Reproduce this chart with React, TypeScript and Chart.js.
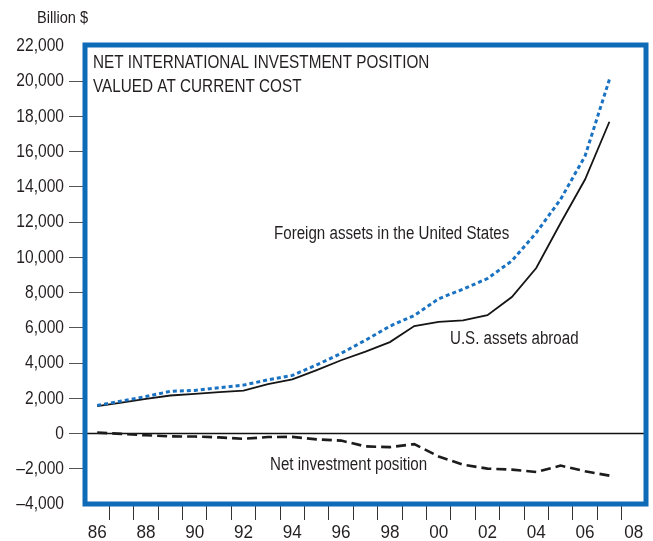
import React, { useEffect, useRef } from "react";
import { Chart, registerables } from "chart.js";

Chart.register(...registerables);

const yearLabels = ["86","87","88","89","90","91","92","93","94","95","96","97","98","99","00","01","02","03","04","05","06","07","08"];

const foreignAssetsInUS = [1600,1850,2100,2400,2450,2600,2750,3050,3300,3900,4550,5300,6100,6700,7650,8200,8800,9800,11400,13300,15750,20100,null];
const usAssetsAbroad = [1550,1760,1970,2160,2250,2350,2440,2800,3070,3600,4160,4650,5190,6100,6340,6420,6720,7750,9400,11950,14420,17700,null];
const netInvestmentPosition = [50,-20,-100,-160,-170,-220,-300,-200,-190,-330,-400,-730,-770,-600,-1300,-1770,-1990,-2050,-2180,-1820,-2140,-2390,null];

const yMin = -4000;
const yMax = 22000;
const yStep = 2000;

const FONT = '"Liberation Sans", Arial, sans-serif';
const BLUE = "#0e6bb8";
const INK = "#231f20";

const fmt = (v: number) => {
  const s = Math.abs(v).toLocaleString("en-US");
  return v < 0 ? "\u2013" + s : s;
};

// draw condensed text (Helvetica Condensed look) by squeezing Liberation Sans horizontally
function narrowText(ctx: CanvasRenderingContext2D, text: string, x: number, y: number, size: number, sx: number, align: CanvasTextAlign, baseline: CanvasTextBaseline) {
  ctx.save();
  ctx.translate(x, y);
  ctx.scale(sx, 1);
  ctx.font = `${size}px ${FONT}`;
  ctx.textAlign = align;
  ctx.textBaseline = baseline;
  ctx.fillStyle = INK;
  ctx.fillText(text, 0, 0);
  ctx.restore();
}

const overlayPlugin = {
  id: "overlay",
  beforeDatasetsDraw(chart: any) {
    const { ctx, chartArea, scales } = chart;
    const y0 = scales.y.getPixelForValue(0);
    ctx.save();
    ctx.strokeStyle = "#111";
    ctx.lineWidth = 1.5;
    ctx.beginPath();
    ctx.moveTo(chartArea.left, y0);
    ctx.lineTo(chartArea.right, y0);
    ctx.stroke();
    ctx.restore();
  },
  afterDraw(chart: any) {
    const { ctx, chartArea, scales } = chart;
    ctx.save();
    ctx.strokeStyle = BLUE;
    ctx.lineWidth = 5;
    ctx.strokeRect(chartArea.left, chartArea.top - 1, chartArea.right - chartArea.left, chartArea.bottom - chartArea.top + 1);
    ctx.restore();

    // y tick labels
    scales.y.ticks.forEach((t: any) => {
      narrowText(ctx, fmt(t.value), 64, scales.y.getPixelForValue(t.value), 19, 0.82, "right", "middle");
    });
    // x tick labels
    scales.x.ticks.forEach((t: any, i: number) => {
      if (i % 2 !== 0) return;
      narrowText(ctx, yearLabels[i], scales.x.getPixelForValue(i), 538, 19, 0.9, "center", "alphabetic");
    });

    narrowText(ctx, "NET INTERNATIONAL INVESTMENT POSITION", 93, 68, 18, 0.85, "left", "alphabetic");
    narrowText(ctx, "VALUED AT CURRENT COST", 93, 92, 18, 0.85, "left", "alphabetic");
    narrowText(ctx, "Foreign assets in the United States", 274, 239, 18, 0.84, "left", "alphabetic");
    narrowText(ctx, "U.S. assets abroad", 450, 344, 18, 0.84, "left", "alphabetic");
    narrowText(ctx, "Net investment position", 270, 470, 18, 0.84, "left", "alphabetic");
    narrowText(ctx, "Billion $", 37, 23, 17, 0.86, "left", "alphabetic");
  },
};

export default function App() {
  const ref = useRef<HTMLCanvasElement>(null);
  useEffect(() => {
    if (!ref.current) return;
    const chart = new Chart(ref.current, {
      type: "line",
      data: {
        labels: yearLabels,
        datasets: [
          {
            label: "Foreign assets in the United States",
            data: foreignAssetsInUS,
            borderColor: "#1a72c2",
            borderWidth: 3,
            borderDash: [4, 3],
            pointRadius: 0,
            tension: 0,
          },
          {
            label: "U.S. assets abroad",
            data: usAssetsAbroad,
            borderColor: "#151515",
            borderWidth: 1.8,
            pointRadius: 0,
            tension: 0,
          },
          {
            label: "Net investment position",
            data: netInvestmentPosition,
            borderColor: "#1c1c1c",
            borderWidth: 2.6,
            borderDash: [10, 5],
            pointRadius: 0,
            tension: 0,
          },
        ],
      },
      options: {
        animation: false,
        responsive: false,
        layout: { padding: { left: 0, top: 46, right: 7, bottom: 0 } },
        plugins: { legend: { display: false }, tooltip: { enabled: false } },
        scales: {
          x: {
            type: "category",
            offset: true,
            afterFit: (s: any) => { s.height = 37; },
            grid: {
              offset: true,
              drawOnChartArea: false,
              drawTicks: true,
              tickLength: 16,
              color: (c: any) => (c.type !== "tick" || c.index === 0 ? "rgba(0,0,0,0)" : "#333"),
              lineWidth: 1,
            },
            border: { display: false },
            ticks: { display: false, autoSkip: false, maxRotation: 0 },
          },
          y: {
            min: yMin,
            max: yMax,
            afterFit: (s: any) => { s.width = 85; },
            grid: {
              drawOnChartArea: false,
              drawTicks: true,
              tickLength: 16,
              color: (c: any) => (c.tick && (c.tick.value === yMin || c.tick.value === yMax) ? "rgba(0,0,0,0)" : "#555"),
            },
            border: { display: false },
            ticks: { display: false, stepSize: yStep },
          },
        },
      },
      plugins: [overlayPlugin],
    });
    return () => chart.destroy();
  }, []);
  return (
    <div style={{ position: "absolute", left: 0, top: 0, width: 653, height: 541, background: "#fff" }}>
      <canvas ref={ref} width={653} height={541} />
    </div>
  );
}
